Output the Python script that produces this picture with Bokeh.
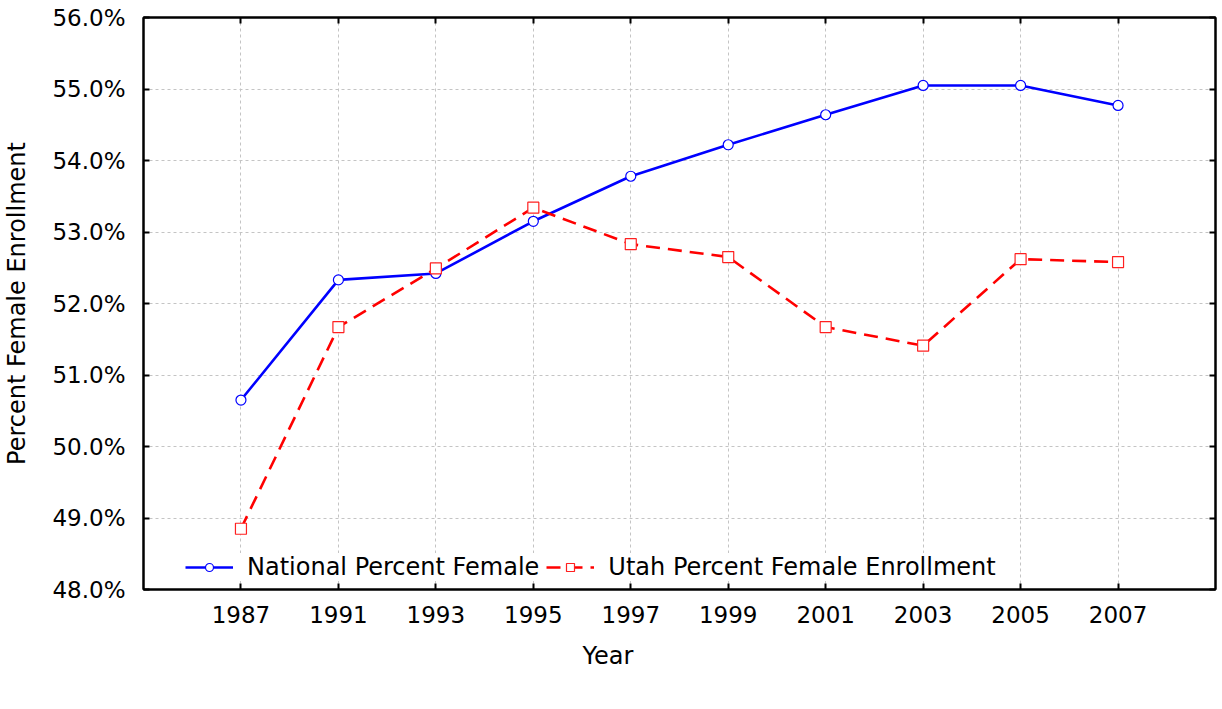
from bokeh.plotting import figure
from bokeh.models import (FactorRange, Range1d, LinearAxis, CategoricalAxis, SingleIntervalTicker,
                          PrintfTickFormatter, Legend, LegendItem, Title, ColumnDataSource)
from bokeh.embed import file_html
from bokeh.resources import INLINE

years = ["1987", "1991", "1993", "1995", "1997", "1999", "2001", "2003", "2005", "2007"]
national = [50.65, 52.33, 52.42, 53.15, 53.78, 54.22, 54.64, 55.05, 55.05, 54.77]
utah = [48.85, 51.67, 52.49, 53.34, 52.83, 52.65, 51.67, 51.41, 52.62, 52.58]

FONT = "DejaVu Sans"

src = ColumnDataSource(data=dict(year=years, national=national, utah=utah))

p = figure(frame_width=1072, frame_height=572,
           output_backend="svg", toolbar_location=None,
           x_range=FactorRange(*years, range_padding=0.1),
           y_range=Range1d(48, 56),
           min_border_left=135, min_border_top=17, min_border_right=2, min_border_bottom=0)
p.background_fill_color = "white"
p.border_fill_color = "white"
p.outline_line_color = "black"
p.outline_line_width = 2

# grids
for g in (p.xgrid, p.ygrid):
    g.grid_line_color = "#c4c4c4"
    g.grid_line_dash = "3 3"
    g.grid_line_width = 1
p.ygrid.ticker = SingleIntervalTicker(interval=1)

# y axis
ya = p.yaxis[0]
ya.ticker = SingleIntervalTicker(interval=1)
ya.formatter = PrintfTickFormatter(format="%.1f%%")
ya.major_tick_in = 6
ya.major_tick_out = 0
ya.minor_tick_line_color = None
ya.major_tick_line_width = 2
ya.axis_line_width = 2
ya.axis_line_color = "black"
ya.major_label_text_font = FONT
ya.major_label_text_font_size = "23px"
ya.major_label_text_color = "black"
ya.major_label_standoff = 14
ya.axis_label = "Percent Female Enrollment"
ya.axis_label_text_font = FONT
ya.axis_label_text_font_size = "24px"
ya.axis_label_text_font_style = "normal"
ya.axis_label_text_color = "black"
ya.axis_label_standoff = 18

# x axis
xa = p.xaxis[0]
xa.major_tick_in = 6
xa.major_tick_out = 0
xa.major_tick_line_width = 2
xa.axis_line_width = 2
xa.axis_line_color = "black"
xa.major_label_text_font = FONT
xa.major_label_text_font_size = "23px"
xa.major_label_text_color = "black"
xa.major_label_standoff = 16

# mirror axes (ticks only, labels hidden)
ra = LinearAxis(ticker=SingleIntervalTicker(interval=1), major_tick_in=6, major_tick_out=0,
                minor_tick_line_color=None, major_tick_line_width=2, axis_line_width=2,
                major_label_text_font_size="1px", major_label_text_color=None, major_label_standoff=0)
p.add_layout(ra, "right")
ta = CategoricalAxis(major_tick_in=6, major_tick_out=0, major_tick_line_width=2, axis_line_width=2,
                     major_label_text_font_size="1px", major_label_text_color=None, major_label_standoff=0)
p.add_layout(ta, "above")

# series
nl = p.line("year", "national", source=src, line_color="#0000ff", line_width=2.6)
nc = p.scatter("year", "national", source=src, marker="circle", size=10,
               fill_color="white", line_color="#0000ff", line_width=1.2)
ul = p.line("year", "utah", source=src, line_color="#ff0000", line_width=2.6, line_dash="14 8")
us = p.scatter("year", "utah", source=src, marker="square", size=11,
               fill_color="white", line_color="#ff2020", line_width=1.2)

year_title = Title(text="Year", align="left", offset=439, text_font=FONT, text_font_size="24px",
                   text_font_style="normal", text_color="black", standoff=28)
p.add_layout(year_title, "below")

legend = Legend(items=[LegendItem(label="National Percent Female", renderers=[nl, nc]),
                       LegendItem(label="Utah Percent Female Enrollment", renderers=[ul, us])],
                orientation="horizontal", location=(42, 8),
                glyph_width=48, glyph_height=20, label_height=20, label_standoff=14, spacing=7,
                padding=2, margin=0, border_line_color=None,
                background_fill_color="white", background_fill_alpha=1,
                label_text_font=FONT, label_text_font_size="24px", label_text_color="black")
p.add_layout(legend, "center")

open("out.html", "w").write(file_html(p, INLINE))
